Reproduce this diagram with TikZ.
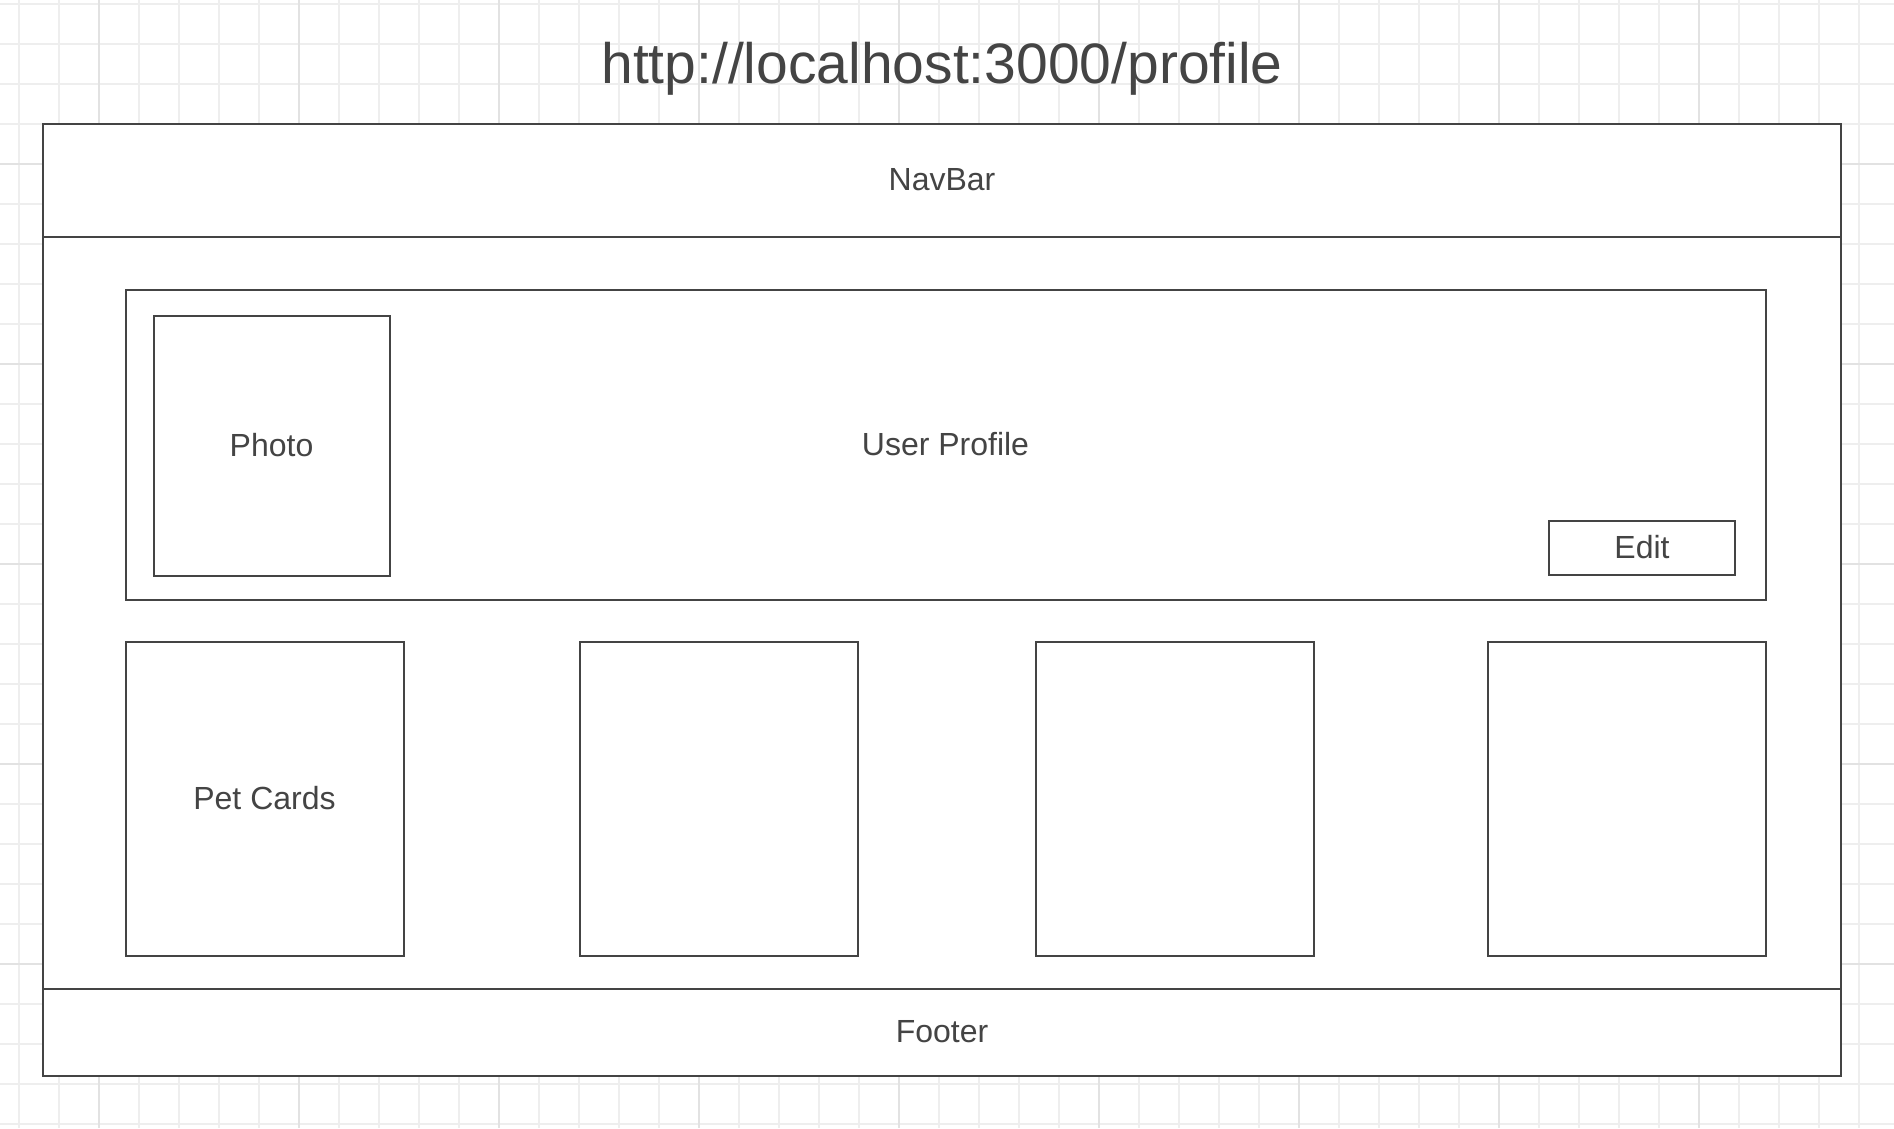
\documentclass[tikz,border=0pt]{standalone}
\usepackage{fontspec}
\setmainfont{Liberation Sans}
\definecolor{inkgray}{HTML}{444444}
\definecolor{gridminor}{HTML}{EEEEEE}
\definecolor{gridmajor}{HTML}{E2E2E2}
\tikzset{
  frame/.style={draw=inkgray,line width=2pt,fill=white,inner sep=0pt},
  caption/.style={text=inkgray,font=\fontsize{32}{36}\selectfont,yshift=0.5pt},
}
\begin{document}
\begin{tikzpicture}[x=1pt,y=-1pt]
\useasboundingbox[fill=white](0,0)rectangle(1894,1128);
% grid
\foreach \gx in {19,59,...,1894}\draw[gridminor,line width=1.2pt](\gx,0)--(\gx,1128);
\foreach \gy in {4,44,...,1128}\draw[gridminor,line width=1.2pt](0,\gy)--(1894,\gy);
\foreach \gx in {99,299,...,1894}\draw[gridmajor,line width=1.5pt](\gx,0)--(\gx,1128);
\foreach \gy in {164,364,...,1128}\draw[gridmajor,line width=1.5pt](0,\gy)--(1894,\gy);
\node[text=inkgray,font=\fontsize{57}{64}\selectfont](url)at(942,69){http://localhost:3000/profile};
% page
\node[frame,anchor=north west,minimum width=1798.4pt,minimum height=952pt](page)at(42,122.5){};
\coordinate(navl)at(42,237);\coordinate(navr)at(1840.4,237);
\coordinate(footl)at(42,988.5);\coordinate(footr)at(1840.4,988.5);
\draw[inkgray,line width=2pt](navl)--(navr);
\draw[inkgray,line width=2pt](footl)--(footr);
\node[caption](navbar)at(942,180){NavBar};
\node[caption](footer)at(942,1032){Footer};
% profile
\node[frame,anchor=north west,minimum width=1640pt,minimum height=310pt](profile)at(124.5,288.5){};
\node[caption]at(profile.center){User Profile};
\node[frame,anchor=north west,minimum width=236pt,minimum height=260pt](photo)at(152.5,314.5){};
\node[caption]at(photo.center){Photo};
\node[frame,minimum width=186pt,minimum height=54pt](edit)at(1642,548){};
\node[caption]at(edit.center){Edit};
% pet cards
\foreach \px [count=\i] in {124.5,578.5,1034.5,1486.5}
  \node[frame,anchor=north west,minimum width=278pt,minimum height=314pt](pet\i)at(\px,640.5){};
\node[caption]at(pet1.center){Pet Cards};
\end{tikzpicture}
\end{document}
